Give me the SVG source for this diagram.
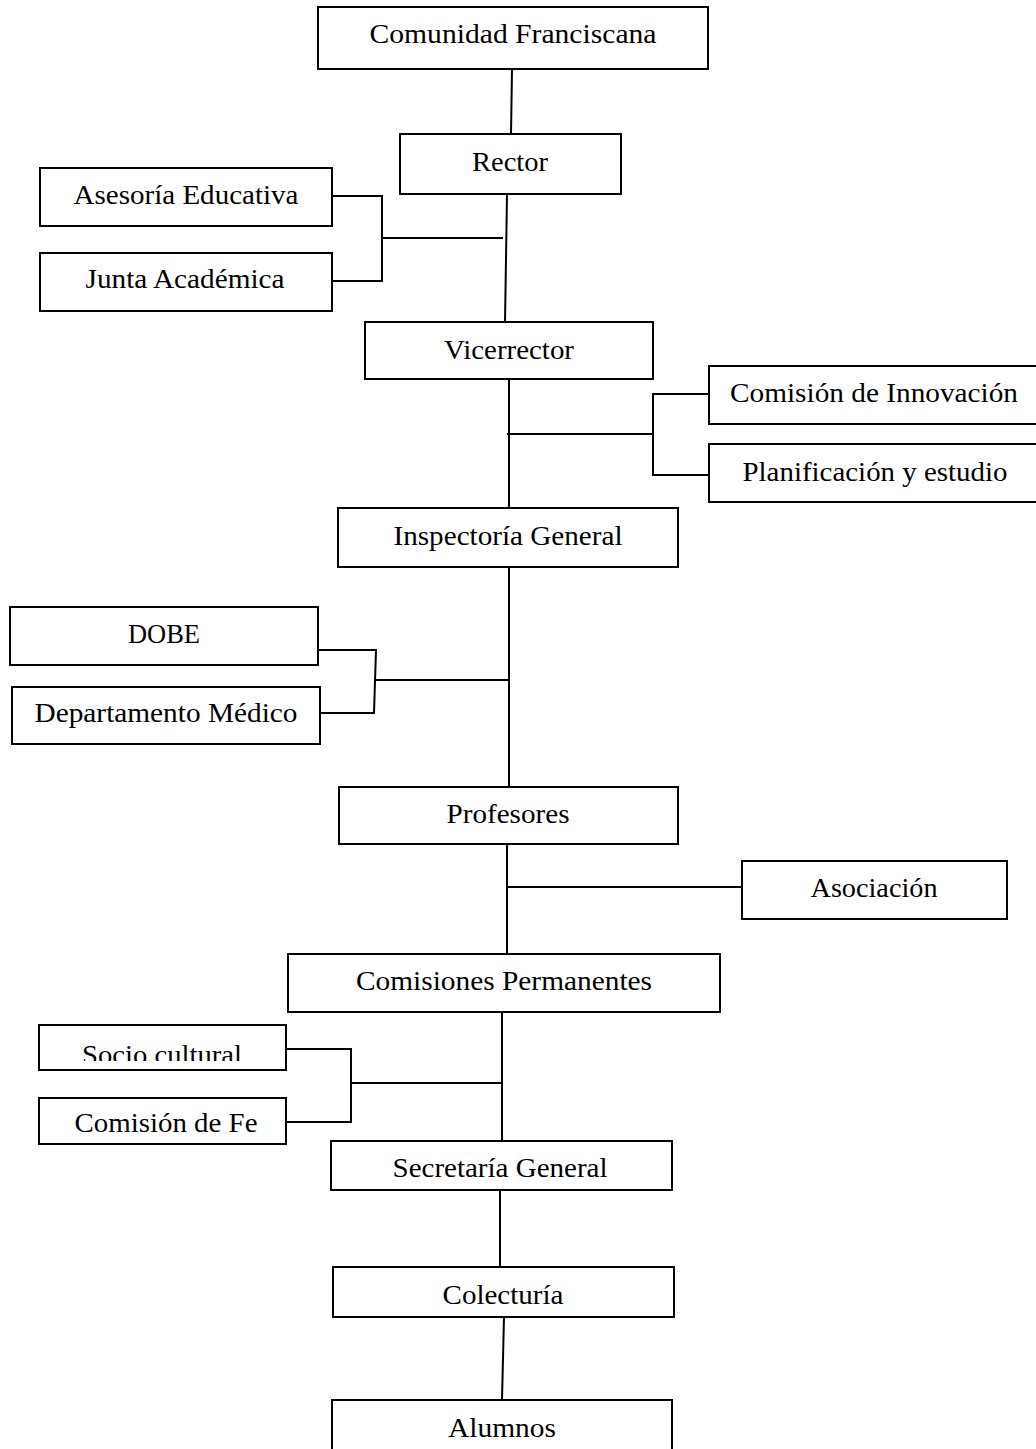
<svg xmlns="http://www.w3.org/2000/svg" width="1036" height="1449" viewBox="0 0 1036 1449">
<style>
.box{fill:#fff;stroke:#000;stroke-width:2}
.lbl{font-family:"Liberation Serif","DejaVu Serif",serif;font-size:28px;fill:#000;text-anchor:middle}
.ln{fill:none;stroke:#000;stroke-width:2}
</style>
<defs>
<clipPath id="clipSocio"><rect x="40" y="1026" width="245" height="35"/></clipPath>
</defs>
<rect width="1036" height="1449" fill="#fff"/>
<g id="connectors">
<path class="ln" d="M512,69 L511,134"/>
<path class="ln" d="M507,194 L505,323"/>
<path class="ln" d="M332,196 L382,196 L382,281 L332,281"/>
<path class="ln" d="M382,238 L503,238"/>
<path class="ln" d="M509,380 L509,508"/>
<path class="ln" d="M709,394 L653,394 L653,475 L709,475"/>
<path class="ln" d="M507,434 L653,434"/>
<path class="ln" d="M509,567 L509,787"/>
<path class="ln" d="M318,650 L376,650 L374,713 L320,713"/>
<path class="ln" d="M375,680 L509,680"/>
<path class="ln" d="M507,844 L507,954"/>
<path class="ln" d="M507,887 L742,887"/>
<path class="ln" d="M502,1010 L502,1141"/>
<path class="ln" d="M286,1049 L351,1049 L351,1122 L286,1122"/>
<path class="ln" d="M351,1083 L502,1083"/>
<path class="ln" d="M500,1190 L500,1267"/>
<path class="ln" d="M504,1317 L502,1400"/>
</g>
<g id="n-comunidad"><rect class="box" x="318" y="7" width="390" height="62"/><text class="lbl" x="513" y="43" textLength="287" lengthAdjust="spacingAndGlyphs">Comunidad Franciscana</text></g>
<g id="n-rector"><rect class="box" x="400" y="134" width="221" height="60"/><text class="lbl" x="510" y="171" textLength="76" lengthAdjust="spacingAndGlyphs">Rector</text></g>
<g id="n-asesoria"><rect class="box" x="40" y="168" width="292" height="58"/><text class="lbl" x="186" y="204" textLength="225" lengthAdjust="spacingAndGlyphs">Asesoría Educativa</text></g>
<g id="n-junta"><rect class="box" x="40" y="253" width="292" height="58"/><text class="lbl" x="185" y="288" textLength="199" lengthAdjust="spacingAndGlyphs">Junta Académica</text></g>
<g id="n-vicerrector"><rect class="box" x="365" y="322" width="288" height="57"/><text class="lbl" x="509" y="359" textLength="130" lengthAdjust="spacingAndGlyphs">Vicerrector</text></g>
<g id="n-innovacion"><rect class="box" x="709" y="366" width="340" height="58"/><text class="lbl" x="874" y="402" textLength="288" lengthAdjust="spacingAndGlyphs">Comisión de Innovación</text></g>
<g id="n-planificacion"><rect class="box" x="709" y="444" width="340" height="58"/><text class="lbl" x="875" y="481" textLength="265" lengthAdjust="spacingAndGlyphs">Planificación y estudio</text></g>
<g id="n-inspectoria"><rect class="box" x="338" y="508" width="340" height="59"/><text class="lbl" x="508" y="545" textLength="229" lengthAdjust="spacingAndGlyphs">Inspectoría General</text></g>
<g id="n-dobe"><rect class="box" x="10" y="607" width="308" height="58"/><text class="lbl" x="164" y="643" textLength="72" lengthAdjust="spacingAndGlyphs">DOBE</text></g>
<g id="n-medico"><rect class="box" x="12" y="687" width="308" height="57"/><text class="lbl" x="166" y="722" textLength="263" lengthAdjust="spacingAndGlyphs">Departamento Médico</text></g>
<g id="n-profesores"><rect class="box" x="339" y="787" width="339" height="57"/><text class="lbl" x="508" y="823" textLength="123" lengthAdjust="spacingAndGlyphs">Profesores</text></g>
<g id="n-asociacion"><rect class="box" x="742" y="861" width="265" height="58"/><text class="lbl" x="874" y="897" textLength="127" lengthAdjust="spacingAndGlyphs">Asociación</text></g>
<g id="n-comisiones"><rect class="box" x="288" y="954" width="432" height="58"/><text class="lbl" x="504" y="990" textLength="296" lengthAdjust="spacingAndGlyphs">Comisiones Permanentes</text></g>
<g id="n-socio"><rect class="box" x="39" y="1025" width="247" height="45"/><text class="lbl" x="162" y="1064" textLength="160" lengthAdjust="spacingAndGlyphs" clip-path="url(#clipSocio)">Socio cultural</text></g>
<g id="n-fe"><rect class="box" x="39" y="1098" width="247" height="46"/><text class="lbl" x="166" y="1132" textLength="183" lengthAdjust="spacingAndGlyphs">Comisión de Fe</text></g>
<g id="n-secretaria"><rect class="box" x="331" y="1141" width="341" height="49"/><text class="lbl" x="500" y="1177" textLength="215" lengthAdjust="spacingAndGlyphs">Secretaría General</text></g>
<g id="n-colecturia"><rect class="box" x="333" y="1267" width="341" height="50"/><text class="lbl" x="503" y="1304" textLength="121" lengthAdjust="spacingAndGlyphs">Colecturía</text></g>
<g id="n-alumnos"><rect class="box" x="332" y="1400" width="340" height="60"/><text class="lbl" x="502" y="1437" textLength="108" lengthAdjust="spacingAndGlyphs">Alumnos</text></g>
</svg>
